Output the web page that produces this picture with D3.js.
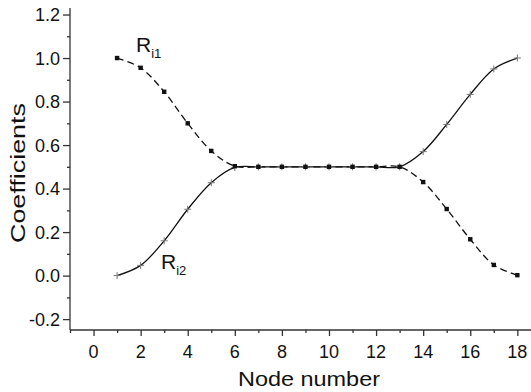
<!DOCTYPE html>
<head>
    <meta charset="utf-8">
    <script src="https://cdn.jsdelivr.net/npm/d3@7"></script>
    <style>
        body { margin: 0; background: #fff; }
        text { font-family: "Liberation Sans", Arial, sans-serif; fill: #111; }
    </style>
</head>
<body>
    <div id="chart"></div>
    <script>
        const width = 531, height = 392;

        // valeurs
        const nodes = d3.range(1, 19);
        const ri1 = [1.0, 0.955, 0.845, 0.70, 0.573, 0.503, 0.50, 0.50, 0.50, 0.50, 0.50, 0.50, 0.50, 0.43, 0.306, 0.167, 0.049, 0.002];
        const ri2 = [0.0, 0.047, 0.16, 0.305, 0.427, 0.497, 0.50, 0.50, 0.50, 0.50, 0.50, 0.50, 0.50, 0.57, 0.695, 0.833, 0.95, 1.0];
        const xTicks = [0, 2, 4, 6, 8, 10, 12, 14, 16, 18];
        const yTicks = [-0.2, 0.0, 0.2, 0.4, 0.6, 0.8, 1.0, 1.2];

        const x = d3.scaleLinear().domain([-1, 18.58]).range([70, 531]);
        const y = d3.scaleLinear().domain([-0.25, 1.23]).range([330, 8]);

        const svg = d3.select('#chart').append('svg')
            .attr('width', width)
            .attr('height', height);

        // axe X
        const gx = svg.append('g').attr('transform', 'translate(0,330)');
        gx.call(d3.axisBottom(x).tickValues(d3.range(-1, 19)).tickSize(3).tickFormat(''));
        gx.call(g => g.selectAll('.tick').filter(d => xTicks.includes(d)).select('line').attr('y2', 6));
        gx.select('.domain').attr('d', 'M70,0H531').attr('stroke', '#333').attr('stroke-width', 1.3);
        gx.selectAll('.tick line').attr('stroke', '#333').attr('stroke-width', 1.3);
        gx.selectAll('.xlabel')
            .data(xTicks)
            .enter().append('text')
            .attr('x', d => x(d))
            .attr('y', 28)
            .attr('text-anchor', 'middle')
            .style('font-size', '18px')
            .text(d => d);

        // axe Y
        const gy = svg.append('g').attr('transform', 'translate(70,0)');
        gy.call(d3.axisLeft(y).tickValues(d3.range(-0.2, 1.25, 0.1)).tickSize(3).tickFormat(''));
        gy.call(g => g.selectAll('.tick').filter(d => yTicks.some(t => Math.abs(t - d) < 1e-6)).select('line').attr('x2', -7));
        gy.select('.domain').attr('d', 'M0,8V330').attr('stroke', '#333').attr('stroke-width', 1.3);
        gy.selectAll('.tick line').attr('stroke', '#333').attr('stroke-width', 1.3);
        gy.selectAll('.ylabel')
            .data(yTicks)
            .enter().append('text')
            .attr('x', -10)
            .attr('y', d => y(d) + 6.5)
            .attr('text-anchor', 'end')
            .style('font-size', '18px')
            .text(d => d.toFixed(1));

        // titres des axes
        svg.append('text')
            .attr('x', 309)
            .attr('y', 386)
            .attr('text-anchor', 'middle')
            .attr('textLength', 142)
            .attr('lengthAdjust', 'spacingAndGlyphs')
            .style('font-size', '21px')
            .text('Node number');

        svg.append('text')
            .attr('transform', 'translate(25,173) rotate(-90)')
            .attr('text-anchor', 'middle')
            .attr('textLength', 140)
            .attr('lengthAdjust', 'spacingAndGlyphs')
            .style('font-size', '21px')
            .text('Coefficients');

        const line = d3.line()
            .x((d, i) => x(nodes[i]))
            .y(d => y(d))
            .curve(d3.curveCatmullRom);

        // R_i2 : trait continu, croix
        svg.append('path')
            .datum(ri2)
            .attr('d', line)
            .attr('fill', 'none')
            .attr('stroke', '#111')
            .attr('stroke-width', 1.3);

        // R_i1 : tirets, carrés pleins
        svg.append('path')
            .datum(ri1)
            .attr('d', line)
            .attr('fill', 'none')
            .attr('stroke', '#111')
            .attr('stroke-width', 1.3)
            .attr('stroke-dasharray', '7,4');

        svg.selectAll('.plus')
            .data(ri2)
            .enter().append('path')
            .attr('d', (d, i) => {
                const cx = x(nodes[i]), cy = y(d);
                return `M${cx - 3.5},${cy}H${cx + 3.5}M${cx},${cy - 3.5}V${cy + 3.5}`;
            })
            .attr('stroke', '#777')
            .attr('stroke-width', 1);

        svg.selectAll('.sq')
            .data(ri1)
            .enter().append('rect')
            .attr('x', (d, i) => x(nodes[i]) - 2.2)
            .attr('y', d => y(d) - 2.2)
            .attr('width', 4.4)
            .attr('height', 4.4)
            .attr('fill', '#111');

        // étiquettes des séries
        const lab1 = svg.append('text').attr('x', 136).attr('y', 52).style('font-size', '21px');
        lab1.append('tspan').text('R');
        lab1.append('tspan').attr('dy', 6).style('font-size', '13px').text('i1');

        const lab2 = svg.append('text').attr('x', 161).attr('y', 269).style('font-size', '21px');
        lab2.append('tspan').text('R');
        lab2.append('tspan').attr('dy', 6).style('font-size', '13px').text('i2');
    </script>
</body>
